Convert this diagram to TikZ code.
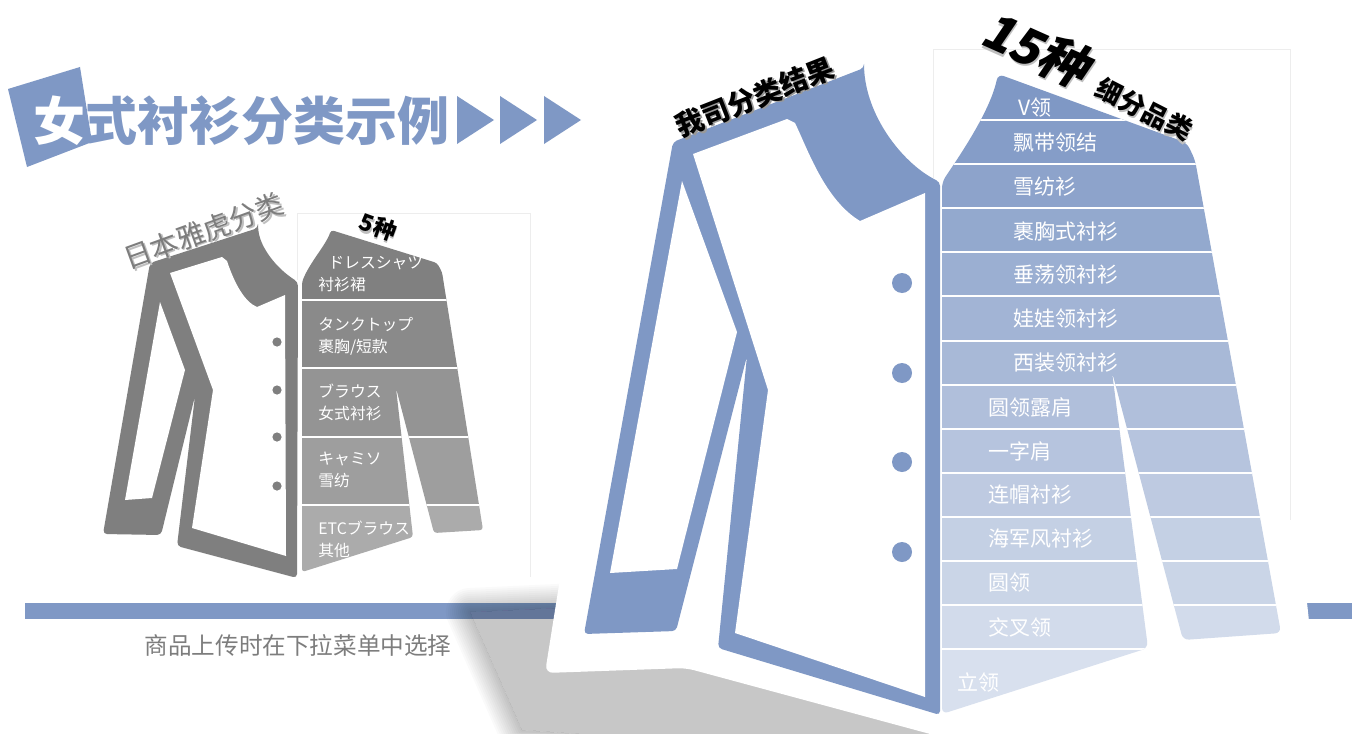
\documentclass[tikz,border=0pt]{standalone}
\usepackage{fontspec}
\newfontfamily\cjk{Noto Sans CJK SC}
\newfontfamily\cjksl[FakeSlant=0.18]{Noto Sans CJK SC}

\definecolor{shirtblue}{RGB}{127,152,197}
\definecolor{shirtgray}{RGB}{127,127,127}
\definecolor{capgray}{RGB}{125,125,125}

% text with a soft drop shadow under it
\newcommand\dropsh[2]{\rlap{\kern0.7pt\raisebox{-0.9pt}{\textcolor{#1}{#2}}}#2}
\def\shadowpoly{(470,612) -- (600,606) -- (945,698) -- (950,760) -- (522,730) -- cycle}

\begin{document}
\begin{tikzpicture}[
    x=0.5pt, y=-0.5pt,
    every node/.style={inner sep=0pt, font=\cjk},
    lblB/.style={anchor=west, text=white, font=\cjk\fontsize{10.5}{12}\selectfont},
    lblG/.style={anchor=west, text=white, align=left, font=\cjk\fontsize{7.9}{11}\selectfont},
    tagtxt/.style={font=\cjk\bfseries\fontsize{14}{16}\selectfont},
    rowsep/.style={white, line width=1pt},
    cardedge/.style={draw=black!7, line width=0.5pt}
]
\useasboundingbox (0,0) rectangle (1352,733);
\fill[white] (0,0) rectangle (1352,733);

% Base rule and caption
\fill[shirtblue] (25,603) rectangle (1352,619);
\node[font=\cjk\fontsize{11.8}{14}\selectfont, text=capgray] (note) at (298,645) {商品上传时在下拉菜单中选择};

% Background cards
\draw[cardedge] (297,280) -- (297,213) -- (530,213) -- (530,577);

% Sticker behind the big shirt, with a soft shadow (rings outside, flat inside)
\begin{scope}[even odd rule]
  \clip (-20,-20) rectangle (1400,800) \shadowpoly;
  \foreach \w in {24,22,...,2}
    \draw[black, draw opacity=0.02, line width=\w pt, line join=round] \shadowpoly;
\end{scope}
\fill[black, fill opacity=0.22] \shadowpoly;
\fill[white, rounded corners=4pt] (632,126) -- (868,60) -- (1200,118) -- (1296,500)
    -- (1314,668) -- (1292,730) -- (945,738) -- (686,668) -- (545,673) -- cycle;
\draw[cardedge] (933,178) -- (933,50) -- (1290,50) -- (1290,520);

% Heading
\fill[shirtblue] (8,89) -- (80,67) -- (92,142) -- (27,167) -- cycle;
\node[font=\cjk\bfseries\fontsize{26}{30}\selectfont, text=shirtblue] (ttl) at (241,121)
    {\textcolor{white}{女}式衬衫分类示例};
\foreach \tx in {457,500,544}
  \fill[shirtblue] (\tx,96) -- (\tx+37,120) -- (\tx,144) -- cycle;

% ---- Small shirt (5 types) ----
% left half
\fill[shirtgray, rounded corners=2pt] (258,228) -- (150,263) -- (103,534) -- (161,535)
    -- (195,396) -- (177,546) -- (297,578) -- (298,282)
    .. controls (276,268) and (261,248) .. (258,228) -- cycle;
\fill[white] (160,302) -- (125,500) -- (152,498) -- (185,370) -- cycle;
\fill[white] (170,273) -- (222,257) -- (227,261) .. controls (235,285) and (245,302) .. (257,307)
    -- (285,295) -- (286,556) -- (192,528) -- (213,390) -- cycle;
\foreach \by in {342,390,437,486}
  \fill[shirtgray] (277,\by) circle[radius=2.3pt];

% right half, banded
\begin{scope}
  \clip[rounded corners=1.5pt] (302,282) .. controls (310,262) and (326,245) .. (331,230)
      -- (437,263) -- (442,272) -- (483,530) -- (434,533) -- (396,388) -- (413,537)
      -- (302,572) -- cycle;
  \foreach \t/\b/\c in {200/300/50, 300/368/46, 368/437/42, 437/505/38, 505/600/33}
    \fill[black!\c] (295,\t) rectangle (500,\b);
  \foreach \yy in {300,368,437,505}
    \draw[rowsep] (295,\yy) -- (500,\yy);
\end{scope}
\node[lblG] (jp1) at (318,274) {\hspace*{5pt}ドレスシャツ\\衬衫裙};
\node[lblG] (jp2) at (318,336) {タンクトップ\\裹胸/短款};
\node[lblG] (jp3) at (318,402) {ブラウス\\女式衬衫};
\node[lblG] (jp4) at (318,470) {キャミソ\\雪纺};
\node[lblG] (jp5) at (318,539) {ETCブラウス\\其他};

\node[font=\cjk\fontsize{14}{16}\selectfont, rotate=20, text=capgray] (jpt) at (204,232)
    {\dropsh{black!25}{日本雅虎分类}};
\node[font=\cjk\bfseries\fontsize{11.5}{13}\selectfont, rotate=-20] (five) at (378,228)
    {\dropsh{black!25}{5种}};

% ---- Big shirt (our categories) ----
% left half
\fill[shirtblue, rounded corners=2pt] (864,68) -- (673,142) -- (584,634) -- (676,631)
    -- (747,356) -- (718,648) -- (940,715) -- (940,182)
    .. controls (905,165) and (868,120) .. (864,68) -- cycle;
\fill[white] (682,181) -- (610,573) -- (677,569) -- (737,332) -- cycle;
\fill[white] (693,154) -- (787,119) -- (795,123) .. controls (808,150) and (825,200) .. (860,221)
    -- (925,193) -- (925,697) -- (735,633) -- (768,390) -- cycle;
\foreach \by in {283,373,462,552}
  \fill[shirtblue] (902,\by) circle[radius=5pt];

% right half, banded
\begin{scope}
  \clip[rounded corners=3pt] (942,182) .. controls (958,158) and (990,112) .. (998,74)
      -- (1187,143) -- (1195,160) -- (1281,633) -- (1183,640) -- (1112,372)
      -- (1148,648) -- (942,714) -- cycle;
  \foreach \t/\b/\c in {40/120/100, 120/164/95, 164/208/89, 208/252/84, 252/296/78,
                        296/341/73, 341/385/68, 385/429/62, 429/473/57, 473/517/51,
                        517/561/46, 561/605/41, 605/649/35, 649/740/30}
    \fill[shirtblue!\c!white] (935,\t) rectangle (1300,\b);
  \foreach \yy in {120,164,208,252,296,341,385,429,473,517,561,605,649}
    \draw[rowsep] (935,\yy) -- (1300,\yy);
\end{scope}
\foreach \lx/\ly/\txt [count=\n] in {1018/108/V领, 1013/143/飘带领结, 1013/187/雪纺衫,
      1013/231/裹胸式衬衫, 1013/275/垂荡领衬衫, 1013/319/娃娃领衬衫, 1013/363/西装领衬衫,
      988/407/圆领露肩, 988/451/一字肩, 988/495/连帽衬衫, 988/539/海军风衬衫,
      988/583/圆领, 988/627/交叉领, 957/682/立领}
  \node[lblB] (cat\n) at (\lx,\ly) {\txt};

\node[tagtxt, rotate=21.5] (ours) at (755,98) {\dropsh{black!40}{我司分类结果}};
\node[font=\cjksl\bfseries\fontsize{25}{28}\selectfont, rotate=-24] (cnt) at (1036,50)
    {\dropsh{black!25}{15种}};
\node[font=\cjk\bfseries\fontsize{13}{15}\selectfont, rotate=-27] (sub) at (1144,110)
    {\dropsh{black!25}{细分品类}};

\end{tikzpicture}
\end{document}
